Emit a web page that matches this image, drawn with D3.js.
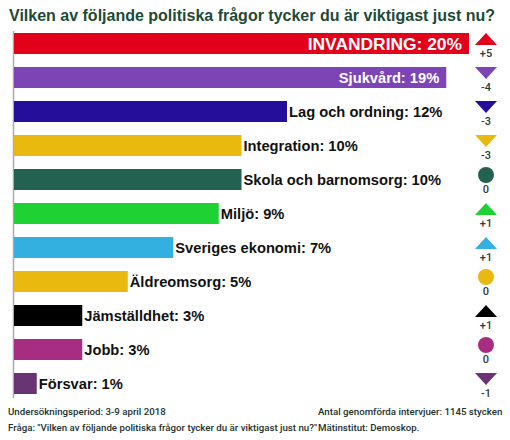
<!DOCTYPE html>
<html><head><meta charset="utf-8">
<script src="https://cdn.jsdelivr.net/npm/d3@7"></script>
<style>body{margin:0;background:#fff}svg{display:block}</style>
</head><body>
<script>
const categories = ["INVANDRING","Sjukvård","Lag och ordning","Integration","Skola och barnomsorg","Miljö","Sveriges ekonomi","Äldreomsorg","Jämställdhet","Jobb","Försvar"];
const values = [20,19,12,10,10,9,7,5,3,3,1];
const changes = [5,-4,-3,-3,0,1,1,0,1,0,-1];
const colors = ["#e2001a","#7d44b6","#250e9a","#e9b90f","#236150","#1ed233","#33b0e0","#e9b90f","#000000","#a72d83","#6a3474"];
const title = "Vilken av följande politiska frågor tycker du är viktigast just nu?";
const footLeft = ["Undersökningsperiod: 3-9 april 2018","Fråga: \"Vilken av följande politiska frågor tycker du är viktigast just nu?\""];
const footRight = ["Antal genomförda intervjuer: 1145 stycken","Mätinstitut: Demoskop."];

const W=510,H=440;
const svg=d3.select("body").append("svg").attr("width",W).attr("height",H);
const x=d3.scaleLinear().domain([0,20]).range([14,469]);
const y=d3.scaleBand().domain(categories).range([33,394]).paddingInner(0.382).paddingOuter(0);
const lf="'Liberation Sans', Arial, sans-serif";

svg.append("text").attr("x",9).attr("y",21).attr("font-family",lf)
  .attr("font-weight","bold").attr("font-size",16).attr("fill","#1d4a38").text(title);

svg.append("line").attr("x1",13.5).attr("x2",13.5).attr("y1",31).attr("y2",398).attr("stroke","#aaa").attr("stroke-width",1.5);

const g=svg.selectAll("g.row").data(categories).enter().append("g");
g.append("rect").attr("x",x(0)).attr("y",d=>y(d)).attr("height",y.bandwidth())
  .attr("width",(d,i)=>x(values[i])-x(0)).attr("fill",(d,i)=>colors[i]);
g.append("text")
  .attr("x",(d,i)=> i<2 ? x(values[i])-7 : x(values[i])+2)
  .attr("y",d=>y(d)+y.bandwidth()/2)
  .attr("dy","0.36em")
  .attr("text-anchor",(d,i)=>i<2?"end":"start")
  .attr("font-family",lf).attr("font-weight","bold")
  .attr("font-size",(d,i)=>i===0?17.4:14.7)
  .attr("fill",(d,i)=>i<2?"#fff":"#111")
  .text((d,i)=>d+": "+values[i]+"%");

const mx=486;
g.each(function(d,i){
  const s=d3.select(this), top=y(d), c=changes[i];
  if(c>0){
    s.append("path").attr("d",`M${mx-11},${top+12}L${mx+11},${top+12}L${mx},${top}Z`).attr("fill",colors[i]);
  } else if(c<0){
    s.append("path").attr("d",`M${mx-11},${top}L${mx+11},${top}L${mx},${top+12}Z`).attr("fill",colors[i]);
  } else {
    s.append("circle").attr("cx",mx).attr("cy",top+6).attr("r",8).attr("fill",colors[i]);
  }
  s.append("text").attr("x",mx).attr("y",top+24).attr("text-anchor","middle")
    .attr("font-family","Roboto, Arial, sans-serif").attr("font-size",11).attr("font-weight",500).attr("fill","#2f3a38")
    .text(c>0?"+"+c:String(c));
});

const ff="Roboto, Arial, sans-serif";
footLeft.forEach((t,i)=>svg.append("text").attr("x",8).attr("y",415+i*16).attr("font-family",ff).attr("font-size",9.7).attr("font-weight",500).attr("fill","#22302d").text(t));
footRight.forEach((t,i)=>svg.append("text").attr("x",318).attr("y",415+i*16).attr("font-family",ff).attr("font-size",9.7).attr("font-weight",500).attr("fill","#22302d").text(t));
</script>
</body></html>
